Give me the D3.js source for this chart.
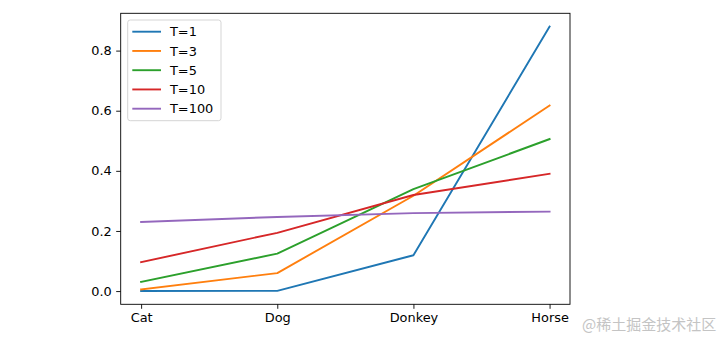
<!DOCTYPE html>
<html>
<head>
<meta charset="utf-8">
<script src="https://cdn.jsdelivr.net/npm/d3@7"></script>
<style>
html,body{margin:0;padding:0;background:#fff;}
svg{display:block;}
</style>
</head>
<body>
<svg id="chart" width="721" height="337"></svg>
<script>
const categories = ["Cat", "Dog", "Donkey", "Horse"];
const seriesNames = ["T=1", "T=3", "T=5", "T=10", "T=100"];
const t1 = [0.0000007, 0.000803, 0.11911, 0.88008];
const t3 = [0.00581, 0.05986, 0.31700, 0.61740];
const t5 = [0.03075, 0.12469, 0.33893, 0.50563];
const t10 = [0.09625, 0.19383, 0.31958, 0.39033];
const t100 = [0.22987, 0.24654, 0.25918, 0.26441];
const yTicks = [0.0, 0.2, 0.4, 0.6, 0.8];
const colors = ["#1f77b4", "#ff7f0e", "#2ca02c", "#d62728", "#9467bd"];
const watermark = "@稀土掘金技术社区";

const allSeries = [t1, t3, t5, t10, t100];

const svg = d3.select("#chart");
const pL = 120.7, pR = 570, pT = 13.3, pB = 304.3;
const font = "'DejaVu Sans', sans-serif";

const n = categories.length;
const xm = (n - 1) * 0.05;
const x = d3.scaleLinear().domain([-xm, n - 1 + xm]).range([pL, pR]);
const all = allSeries.flat();
const lo = d3.min(all), hi = d3.max(all);
const ym = (hi - lo) * 0.05;
const y = d3.scaleLinear().domain([lo - ym, hi + ym]).range([pB, pT]);

// lines
const line = d3.line().x((d, i) => x(i)).y(d => y(d));
const g = svg.append("g");
g.append("defs").append("clipPath").attr("id", "clip")
  .append("rect").attr("x", pL).attr("y", pT).attr("width", pR - pL).attr("height", pB - pT);
allSeries.forEach((s, k) => {
  g.append("path").datum(s)
    .attr("d", line)
    .attr("fill", "none")
    .attr("stroke", colors[k])
    .attr("stroke-width", 1.9)
    .attr("stroke-linejoin", "round")
    .attr("stroke-linecap", "square")
    .attr("clip-path", "url(#clip)");
});

// axes
const xAxis = d3.axisBottom(x).tickValues(d3.range(n)).tickFormat(i => categories[i])
  .tickSize(4.5).tickPadding(4.5);
const yAxis = d3.axisLeft(y).tickValues(yTicks).tickFormat(d3.format(".1f"))
  .tickSize(4.5).tickPadding(4.5);

const gx = svg.append("g").attr("transform", `translate(0,${pB})`).call(xAxis);
const gy = svg.append("g").attr("transform", `translate(${pL},0)`).call(yAxis);
[gx, gy].forEach(a => {
  a.select(".domain").remove();
  a.selectAll(".tick line").attr("stroke", "#000").attr("stroke-width", 0.9);
  a.selectAll(".tick text").attr("fill", "#000").style("font-family", font).style("font-size", "12.9px");
});
gx.selectAll(".tick text").attr("dy", "0.71em");

// spines
svg.append("rect").attr("x", pL).attr("y", pT)
  .attr("width", pR - pL).attr("height", pB - pT)
  .attr("fill", "none").attr("stroke", "#000").attr("stroke-width", 0.9);

// legend
const lg = svg.append("g");
lg.append("rect").attr("x", 127.7).attr("y", 20).attr("width", 93.3).attr("height", 100.7)
  .attr("rx", 2.5).attr("fill", "#fff").attr("fill-opacity", 0.8)
  .attr("stroke", "#d0d0d0").attr("stroke-width", 0.9);
seriesNames.forEach((name, k) => {
  const yy = 31.7 + k * 19.25;
  lg.append("line").attr("x1", 132.3).attr("x2", 161).attr("y1", yy).attr("y2", yy)
    .attr("stroke", colors[k]).attr("stroke-width", 1.9);
  lg.append("text").attr("x", 170).attr("y", yy).attr("dy", "0.36em")
    .style("font-family", font).style("font-size", "12.9px").attr("fill", "#000")
    .text(name);
});

// watermark
svg.append("text").attr("x", 582).attr("y", 330)
  .style("font-family", "'Noto Sans CJK SC', sans-serif").style("font-size", "15px")
  .attr("fill", "#c4c4c4").text(watermark);
</script>
</body>
</html>
